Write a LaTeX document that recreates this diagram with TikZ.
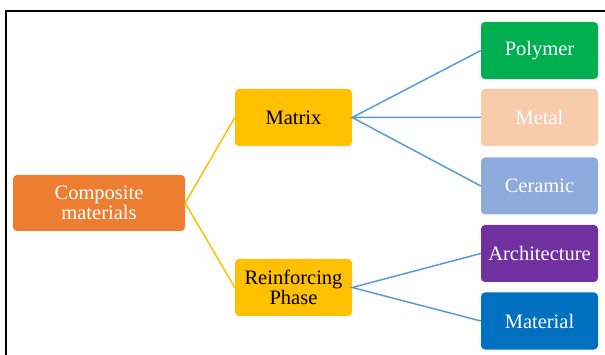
\documentclass[tikz,border=0pt]{standalone}
\usepackage{fontspec}
\setmainfont{Liberation Serif}
\newfontfamily\cmfont{Liberation Serif}
\usepackage{tikz}
\usetikzlibrary{calc,positioning}

\definecolor{cmorange}{HTML}{ED7D31}
\definecolor{cmyellow}{HTML}{FFC000}
\definecolor{cmgreen}{HTML}{00B050}
\definecolor{cmpeach}{HTML}{F8CBAD}
\definecolor{cmlblue}{HTML}{8FAADC}
\definecolor{cmpurple}{HTML}{7030A0}
\definecolor{cmblue}{HTML}{0070C0}
\definecolor{cmline}{HTML}{5B9BD5}

\begin{document}
\begin{tikzpicture} [x=1pt,y=-1pt,{box/.style={rectangle,rounded corners=4pt,inner sep=0pt,minimum width=117pt,minimum height=57pt,align=center,font=\cmfont\fontsize{20.5}{20}\selectfont}},{linest/.style={line width=1.5pt}}]
		\useasboundingbox (0,0) rectangle (605,355);
		%%frame
		\draw [line width=2pt] (605,11) -- (6,11) -- (6,355);
		%%root
		\node at (99,203) [box,fill=cmorange,text=white,minimum width=172pt,minimum height=56pt] (1) {Composite\\materials};
		%%second level
		\node at (293.5,117.5) [box,fill=cmyellow] (2) {Matrix};
		\node at (293.5,287.5) [box,fill=cmyellow] (3) {Reinforcing\\Phase};
		%%leaves
		\node at (539.5,50.5) [box,fill=cmgreen,text=white] (4) {Polymer};
		\node at (539.5,117.5) [box,fill=cmpeach,text=white] (5) {Metal};
		\node at (539.5,186) [box,fill=cmlblue,text=white] (6) {Ceramic};
		\node at (539.5,253.5) [box,fill=cmpurple,text=white] (7) {Architecture};
		\node at (539.5,321) [box,fill=cmblue,text=white] (8) {Material};
		%%links
		\draw [linest,cmyellow] (2.west) -- (1.east) -- (3.west);
		\draw [linest,cmline] (4.west) -- (2.east) -- (5.west);
		\draw [linest,cmline] (2.east) -- (6.west);
		\draw [linest,cmline] (7.west) -- (3.east) -- (8.west);
	\end{tikzpicture}
\end{document}
